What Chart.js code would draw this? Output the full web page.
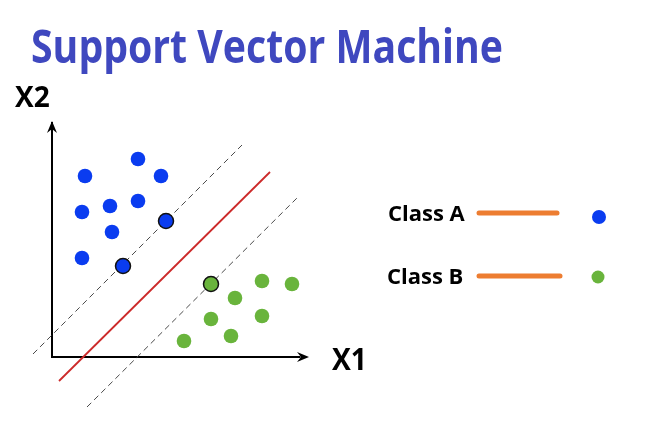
<!DOCTYPE html>
<html>
<head>
<meta charset="utf-8">
<title>Support Vector Machine</title>
<script src="https://cdn.jsdelivr.net/npm/chart.js@4.4.0/dist/chart.umd.min.js"></script>
<style>
  html, body { margin: 0; padding: 0; background: #fff; }
  #wrap { width: 655px; height: 422px; }
</style>
</head>
<body>
<div id="wrap"><canvas id="myChart" width="655" height="422"></canvas></div>
<script>
// class A (blue) points
var classAX = [3.44, 1.32, 4.36, 1.2, 2.32, 3.44, 2.4, 1.2];
var classAY = [7.92, 7.24, 7.24, 5.8, 6.04, 6.24, 5.0, 3.96];
// class B (green) points
var classBX = [8.4, 9.6, 7.32, 6.36, 8.4, 5.28, 7.16];
var classBY = [3.04, 2.92, 2.36, 1.52, 1.64, 0.64, 0.84];
// support vectors
var supportAX = [4.56, 2.84];
var supportAY = [5.44, 3.64];
var supportBX = [6.36];
var supportBY = [2.92];
// hyperplane and margins (end points)
var upperX = [-0.76, 7.6],  upperY = [0.12, 8.48];
var planeX = [0.28, 8.72],  planeY = [-0.96, 7.4];
var lowerX = [1.4, 9.84],   lowerY = [-2.0, 6.4];
// axes
var axisLenX = 10.24, axisLenY = 9.4;
var legendNames = ['Class A', 'Class B'];

function pts(xs, ys) {
  return xs.map(function (x, i) { return {x: x, y: ys[i]}; });
}

var blue = '#0a3cf0', green = '#69b43c', orange = '#ed7d31';
var fontFam = '"Open Sans"';

var decor = {
  id: 'decor',
  afterDatasetsDraw: function (chart) {
    var c = chart.ctx, sx = chart.scales.x, sy = chart.scales.y;
    var ox = sx.getPixelForValue(0), oy = sy.getPixelForValue(0);
    var ex = sx.getPixelForValue(axisLenX), ey = sy.getPixelForValue(axisLenY);
    c.save();
    // arrow heads
    c.fillStyle = '#000';
    c.beginPath();
    c.moveTo(ex + 1, oy);
    c.lineTo(ex - 11, oy - 5);
    c.lineTo(ex - 7, oy);
    c.lineTo(ex - 11, oy + 5);
    c.closePath();
    c.fill();
    c.beginPath();
    c.moveTo(ox, ey - 1);
    c.lineTo(ox - 5, ey + 11);
    c.lineTo(ox, ey + 7);
    c.lineTo(ox + 5, ey + 11);
    c.closePath();
    c.fill();
    // axis labels
    c.fillStyle = '#000';
    c.font = 'bold 28px ' + fontFam;
    c.fillText('X2', 15, 107, 35);
    c.font = 'bold 30px ' + fontFam;
    c.fillText('X1', 332, 370, 35);
    // title
    c.fillStyle = '#3f48bf';
    c.font = 'bold 46px ' + fontFam;
    c.fillText('Support Vector Machine', 31, 63, 472);
    // legend
    var rows = [
      {y: 213, tx: 388, x2: 557, dx: 599, dy: 217, r: 7, col: blue},
      {y: 276, tx: 387, x2: 560, dx: 598, dy: 277, r: 6.5, col: green}
    ];
    rows.forEach(function (row, i) {
      c.fillStyle = '#000';
      c.font = 'bold 22px ' + fontFam;
      c.fillText(legendNames[i], row.tx, row.y + 8, 77);
      c.strokeStyle = orange;
      c.lineWidth = 5;
      c.lineCap = 'round';
      c.beginPath();
      c.moveTo(479, row.y);
      c.lineTo(row.x2, row.y);
      c.stroke();
      c.fillStyle = row.col;
      c.beginPath();
      c.arc(row.dx, row.dy, row.r, 0, Math.PI * 2);
      c.fill();
    });
    c.restore();
  }
};

var ctx = document.getElementById('myChart').getContext('2d');
var myChart = new Chart(ctx, {
  type: 'scatter',
  data: {
    datasets: [{
        data: pts(supportAX, supportAY),
        backgroundColor: blue,
        borderColor: '#111',
        borderWidth: 1.5,
        pointRadius: 7.5
      }, {
        data: pts(supportBX, supportBY),
        backgroundColor: green,
        borderColor: '#111',
        borderWidth: 1.5,
        pointRadius: 7.5
      }, {
        data: pts(classAX, classAY),
        backgroundColor: blue,
        borderWidth: 0,
        pointRadius: 7.3
      }, {
        data: pts(classBX, classBY),
        backgroundColor: green,
        borderWidth: 0,
        pointRadius: 7.3
      }, {
        data: pts(upperX, upperY),
        showLine: true,
        borderColor: '#4a4a4a',
        borderWidth: 1,
        borderDash: [6, 4],
        pointRadius: 0
      }, {
        data: pts(planeX, planeY),
        showLine: true,
        borderColor: '#cc2a2a',
        borderWidth: 1.8,
        pointRadius: 0
      }, {
        data: pts(lowerX, lowerY),
        showLine: true,
        borderColor: '#4a4a4a',
        borderWidth: 1,
        borderDash: [6, 4],
        pointRadius: 0
      }, {
        data: [{x: 0, y: axisLenY}, {x: 0, y: 0}, {x: axisLenX - 0.3, y: 0}],
        showLine: true,
        borderColor: '#000',
        borderWidth: 2,
        pointRadius: 0
      }
    ]
  },
  options: {
    responsive: false,
    animation: false,
    events: [],
    layout: { padding: 0, autoPadding: false },
    scales: {
      x: { type: 'linear', display: false, min: -2.08, max: 24.12 },
      y: { type: 'linear', display: false, min: -2.6, max: 14.28 }
    },
    plugins: {
      legend: { display: false },
      title: { display: false },
      tooltip: { enabled: false }
    }
  },
  plugins: [decor]
});
</script>
</body>
</html>
